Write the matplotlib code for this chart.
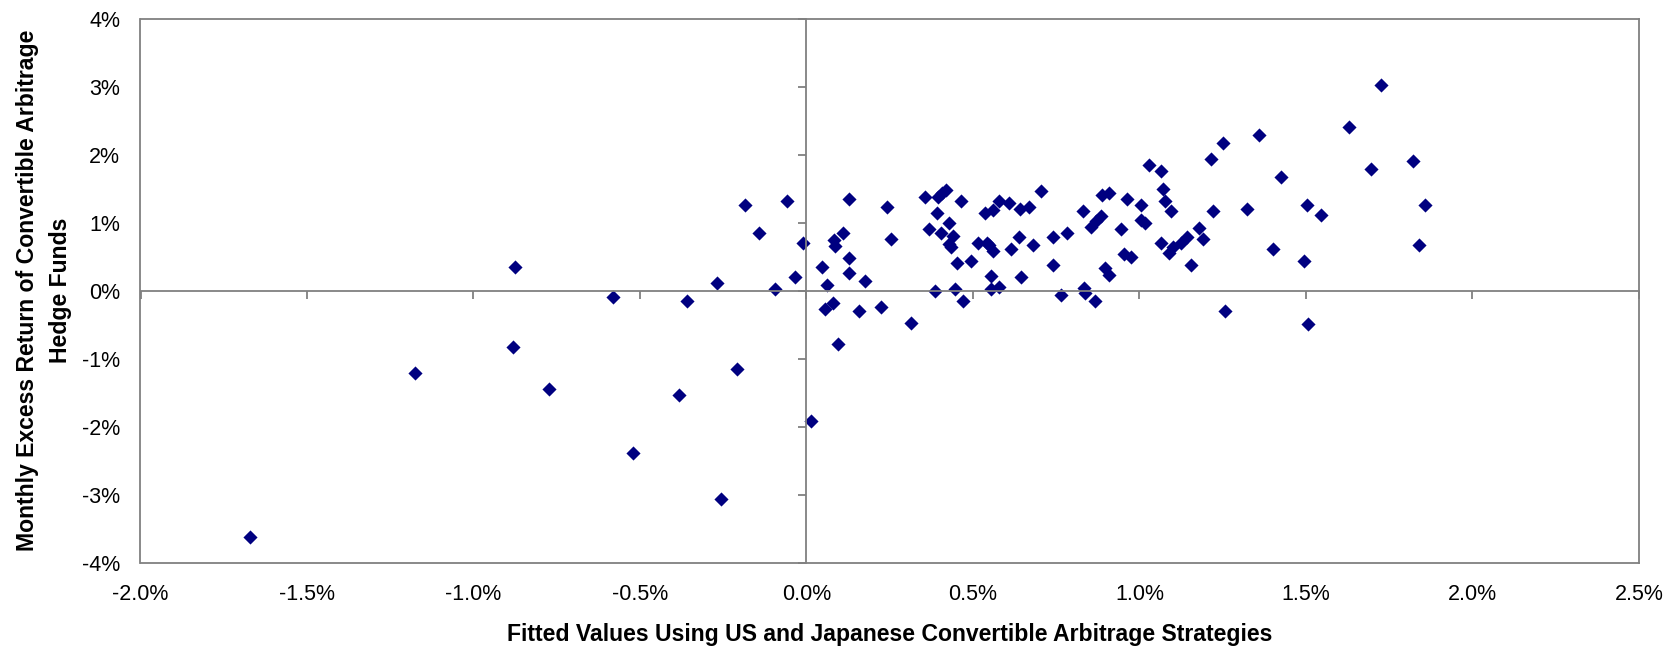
import matplotlib
matplotlib.use("Agg")
import matplotlib.pyplot as plt

plt.rcParams["font.family"] = ["Liberation Sans", "DejaVu Sans"]

# Fitted values (x, %) and monthly excess returns (y, %)
fitted = [
    -1.670, -1.177, -0.876, -0.882, -0.773, -0.582, -0.522, -0.384, -0.360, -0.269,
    -0.258, -0.210, -0.186, -0.144, -0.095, -0.059, -0.035, -0.011, 0.013, 0.047,
    0.056, 0.061, 0.079, 0.082, 0.086, 0.095, 0.109, 0.127, 0.127, 0.127,
    0.157, 0.175, 0.223, 0.241, 0.253, 0.313, 0.355, 0.367, 0.385, 0.391,
    0.395, 0.408, 0.420, 0.405, 0.427, 0.439, 0.427, 0.433, 0.445, 0.451,
    0.463, 0.469, 0.493, 0.515, 0.541, 0.547, 0.559, 0.537, 0.559, 0.577,
    0.553, 0.553, 0.577, 0.607, 0.613, 0.637, 0.643, 0.641, 0.667, 0.679,
    0.703, 0.739, 0.739, 0.764, 0.781, 0.829, 0.833, 0.837, 0.865, 0.853,
    0.870, 0.885, 0.887, 0.907, 0.897, 0.907, 0.962, 0.944, 0.953, 0.974,
    1.004, 1.004, 1.017, 1.028, 1.064, 1.072, 1.076, 1.094, 1.064, 1.088,
    1.102, 1.126, 1.142, 1.154, 1.178, 1.190, 1.214, 1.250, 1.220, 1.256,
    1.322, 1.358, 1.424, 1.400, 1.502, 1.494, 1.505, 1.544, 1.628, 1.694,
    1.724, 1.820, 1.856, 1.838,
]
returns = [
    -3.620, -1.206, 0.353, -0.824, -1.441, -0.088, -2.382, -1.529, -0.147, 0.118,
    -3.059, -1.147, 1.265, 0.853, 0.030, 1.324, 0.206, 0.706, -1.912, 0.353,
    -0.274, 0.088, -0.176, 0.740, 0.660, -0.790, 0.853, 1.353, 0.476, 0.265,
    -0.294, 0.147, -0.235, 1.235, 0.765, -0.471, 1.382, 0.912, 0.000, 1.147,
    1.372, 1.430, 1.480, 0.853, 1.000, 0.804, 0.687, 0.638, 0.030, 0.412,
    1.324, -0.147, 0.441, 0.706, 0.706, 0.672, 0.588, 1.147, 1.187, 1.324,
    0.216, 0.020, 0.059, 1.294, 0.618, 0.794, 0.206, 1.206, 1.235, 0.676,
    1.471, 0.794, 0.382, -0.060, 0.853, 1.176, 0.040, -0.030, -0.147, 0.941,
    1.020, 1.100, 1.412, 1.441, 0.334, 0.235, 1.353, 0.912, 0.540, 0.500,
    1.265, 1.040, 1.000, 1.853, 1.765, 1.500, 1.324, 1.176, 0.706, 0.559,
    0.647, 0.706, 0.794, 0.382, 0.922, 0.765, 1.941, 2.176, 1.176, -0.294,
    1.206, 2.294, 1.676, 0.618, 1.265, 0.441, -0.490, 1.118, 2.412, 1.794,
    3.029, 1.912, 1.265, 0.676,
]

x_ticks = [-2.0, -1.5, -1.0, -0.5, 0.0, 0.5, 1.0, 1.5, 2.0, 2.5]
x_tick_labels = ["-2.0%", "-1.5%", "-1.0%", "-0.5%", "0.0%", "0.5%", "1.0%", "1.5%", "2.0%", "2.5%"]
y_ticks = [-4, -3, -2, -1, 0, 1, 2, 3, 4]
y_tick_labels = ["-4%", "-3%", "-2%", "-1%", "0%", "1%", "2%", "3%", "4%"]

x_title = "Fitted Values Using US and Japanese Convertible Arbitrage Strategies"
y_title = "Monthly Excess Return of Convertible Arbitrage\nHedge Funds"

axis_gray = "#808080"
W, H = 1681, 653
fig = plt.figure(figsize=(W / 100, H / 100), dpi=100)
rect = [140.5 / W, 1 - 562.7 / H, (1639 - 140.5) / W, (562.7 - 18.7) / H]

# Frame axes: plot-area border and tick labels along the edges
ax = fig.add_axes(rect)
ax.set_xlim(x_ticks[0], x_ticks[-1])
ax.set_ylim(y_ticks[0], y_ticks[-1])
for sp in ax.spines.values():
    sp.set_color(axis_gray)
    sp.set_linewidth(1.3)
ax.set_xticks(x_ticks)
ax.set_xticklabels(x_tick_labels)
ax.set_yticks(y_ticks)
ax.set_yticklabels(y_tick_labels)
ax.tick_params(axis="both", length=0, labelsize=15.5, colors="black")
ax.tick_params(axis="x", pad=15)
ax.tick_params(axis="y", pad=14.5)

ax.scatter(fitted, returns, marker="D", s=7.2 ** 2, color="#000080",
           linewidths=0, zorder=5)

# Overlay axes whose spines cross at zero, carrying the tick marks
ax0 = fig.add_axes(rect, sharex=ax, sharey=ax)
ax0.patch.set_visible(False)
for side in ("top", "right"):
    ax0.spines[side].set_visible(False)
for side in ("left", "bottom"):
    ax0.spines[side].set_position(("data", 0))
    ax0.spines[side].set_color(axis_gray)
    ax0.spines[side].set_linewidth(1.3)
ax0.tick_params(axis="both", direction="out", length=6, width=1.3,
                colors=axis_gray, labelbottom=False, labelleft=False)

fig.text((140.5 + 1639) / 2 / W, 1 - 635 / H, x_title, ha="center", va="center",
         fontsize=16.6, fontweight="bold")
fig.text(44 / W, 1 - 290 / H, y_title, ha="center", va="center", rotation=90,
         fontsize=16.6, fontweight="bold", linespacing=1.55, multialignment="center")

fig.savefig("out.png", dpi=100)
